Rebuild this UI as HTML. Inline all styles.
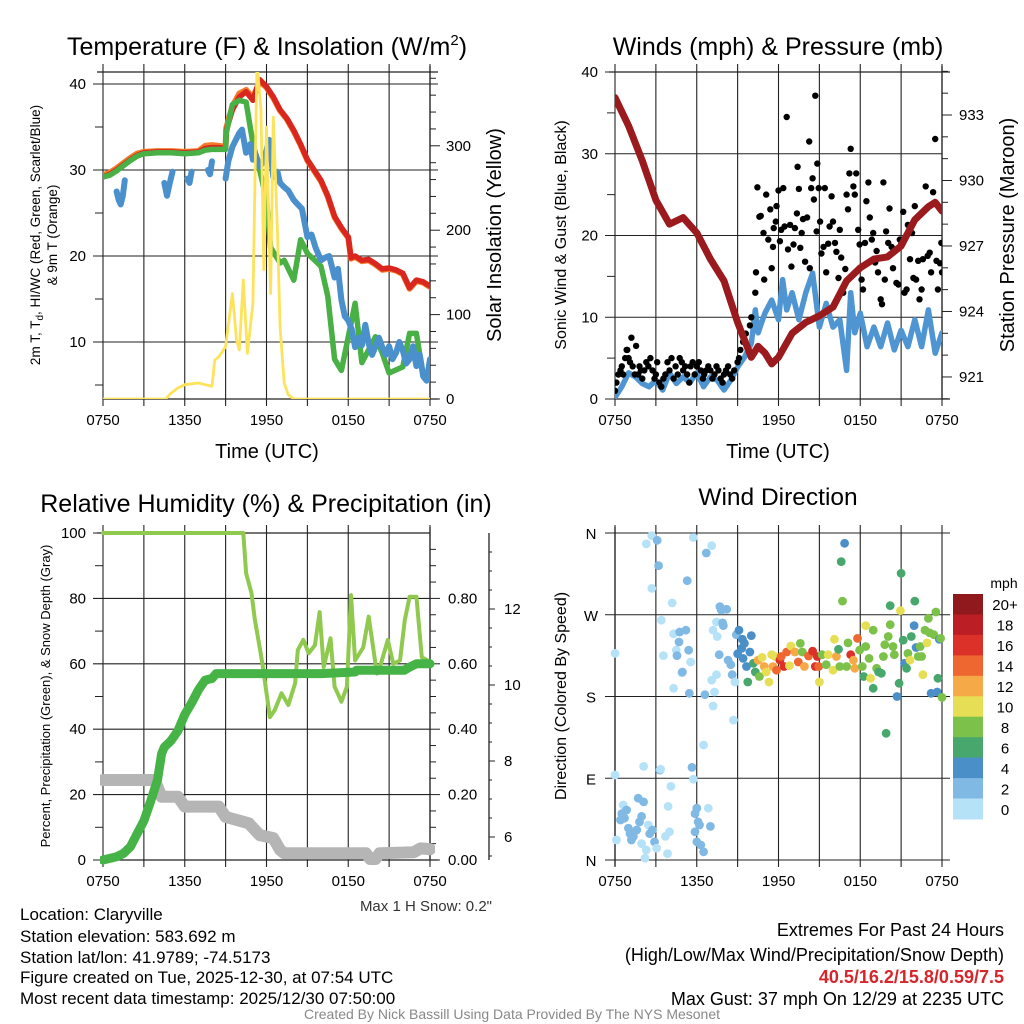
<!DOCTYPE html>
<html><head><meta charset="utf-8"><title>Claryville Meteogram</title>
<style>
html,body{margin:0;padding:0;background:#fff;}
svg{display:block;font-family:"Liberation Sans",sans-serif;}
</style></head>
<body>
<svg id="chart" width="1024" height="1024" viewBox="0 0 1024 1024" xmlns="http://www.w3.org/2000/svg">
<defs>
<clipPath id="c1"><rect x="103" y="72" width="327" height="327"/></clipPath>
<clipPath id="c2"><rect x="615" y="72" width="327" height="327"/></clipPath>
<clipPath id="c3"><rect x="100" y="530" width="335" height="340"/></clipPath>
<clipPath id="c4"><rect x="605" y="525" width="345" height="345"/></clipPath>
</defs>
<rect x="0" y="0" width="1024" height="1024" fill="#fff"/>
<g id="grid"></g>
<g id="marks"></g>
<g id="axes"></g>

<!-- Panel 1 texts -->
<text x="267" y="55" font-size="25" text-anchor="middle">Temperature (F) &amp; Insolation (W/m<tspan font-size="15" dy="-10">2</tspan><tspan dy="10">)</tspan></text>
<text transform="translate(40,235) rotate(-90)" font-size="13.5" text-anchor="middle">2m T, T<tspan font-size="10" dy="3">d</tspan><tspan dy="-3">, HI/WC (Red, Green, Scarlet/Blue)</tspan></text>
<text transform="translate(57,235) rotate(-90)" font-size="13.5" text-anchor="middle">&amp; 9m T (Orange)</text>
<text transform="translate(501,235) rotate(-90)" font-size="20" text-anchor="middle">Solar Insolation (Yellow)</text>
<text x="267" y="458" font-size="20" text-anchor="middle">Time (UTC)</text>

<!-- Panel 2 texts -->
<text x="778" y="55" font-size="25" text-anchor="middle">Winds (mph) &amp; Pressure (mb)</text>
<text transform="translate(566,235) rotate(-90)" font-size="16" text-anchor="middle">Sonic Wind &amp; Gust (Blue, Black)</text>
<text transform="translate(1014,235) rotate(-90)" font-size="20" text-anchor="middle">Station Pressure (Maroon)</text>
<text x="778" y="458" font-size="20" text-anchor="middle">Time (UTC)</text>

<!-- Panel 3 texts -->
<text x="266" y="512" font-size="25" text-anchor="middle">Relative Humidity (%) &amp; Precipitation (in)</text>
<text transform="translate(50,696) rotate(-90)" font-size="13" text-anchor="middle">Percent, Precipitation (Green), &amp; Snow Depth (Gray)</text>
<text x="492" y="911" font-size="15" fill="#333" text-anchor="end">Max 1 H Snow: 0.2"</text>

<!-- Panel 4 texts -->
<text x="778" y="505" font-size="24.5" text-anchor="middle">Wind Direction</text>
<text transform="translate(566,696) rotate(-90)" font-size="16" text-anchor="middle">Direction (Colored By Speed)</text>
<text x="1004" y="588" font-size="14" text-anchor="middle">mph</text>

<!-- Info text -->
<g font-size="17">
<text x="20" y="920">Location: Claryville</text>
<text x="20" y="942">Station elevation: 583.692 m</text>
<text x="20" y="963">Station lat/lon: 41.9789; -74.5173</text>
<text x="20" y="983">Figure created on Tue, 2025-12-30, at 07:54 UTC</text>
<text x="20" y="1004">Most recent data timestamp: 2025/12/30 07:50:00</text>
</g>
<g font-size="18" text-anchor="end">
<text x="1004" y="936">Extremes For Past 24 Hours</text>
<text x="1004" y="961">(High/Low/Max Wind/Precipitation/Snow Depth)</text>
<text x="1004" y="983" fill="#d7262b" font-weight="bold">40.5/16.2/15.8/0.59/7.5</text>
<text x="1004" y="1005">Max Gust: 37 mph On 12/29 at 2235 UTC</text>
</g>
<text x="512" y="1019" font-size="14" fill="#888" text-anchor="middle">Created By Nick Bassill Using Data Provided By The NYS Mesonet</text>
</svg>

<script>
// ---------- Panel 1: temperature & insolation ----------
const tempH = [0,0.5,1,1.5,2,2.5,3,4,5,6,7,7.5,8,8.5,9,9.05,9.5,10,10.5,11,11.5,12,12.5,13,13.5,14,14.5,15,15.5,16,16.5,17,17.5,18,18.2,18.5,19,19.5,20,20.5,21,21.5,22,22.5,23,23.5,24];
const tempT = [29.2,29.5,30,30.6,31.2,31.7,32,32.1,32.1,32,32.1,32.5,32.6,32.6,32.5,34.6,37,38.5,39.1,38.1,40.5,39.7,38.5,37,36,34.6,33,31.2,30,28.8,27,24.6,23.3,22.2,19.8,20,19.5,19.6,19.1,18.5,18.6,18.4,18,16.3,17.2,17.0,16.5];
const temp9m = [29.4,29.7,30.2,30.8,31.4,31.9,32.1,32.2,32.2,32.1,32.2,32.8,32.9,32.8,32.7,34.9,37.4,38.9,39.3,38.4,40.3,39.6,38.4,36.9,35.9,34.5,32.9,31.1,29.9,28.7,26.9,24.5,23.2,22.1,19.7,19.9,19.4,19.5,19,18.4,18.5,18.3,17.9,16.2,17.1,16.9,16.4];
const dpH = [0,0.5,1,1.5,2,2.5,3,4,5,6,7,7.5,8,8.5,9,9.05,9.5,10,10.5,11,11.5,12,12.3,13,13.3,14,14.5,15,16,16.5,17,17.5,18,18.5,19,20,20.5,21,22,22.5,23,23.5,24];
const dpT = [29.2,29.4,29.9,30.5,31.1,31.6,31.9,32,32,31.9,32,32.3,32.4,32.4,32.4,34.3,37.6,38.1,37.9,33.1,30,26.5,21,19.2,19.5,17.2,21.9,20.3,18.8,15.3,8,6.7,10.6,14.5,7.6,10.6,8.7,6.4,7.1,11,11,6,5.6];
const wcH = [1.0,1.15,1.3,1.45,1.6,null,4.5,4.7,4.9,5.1,null,6.2,6.35,6.5,null,7.7,7.85,8.0,null,9.0,9.2,9.5,10,10.2,10.5,10.8,11,11.2,11.5,11.8,12,12.2,12.5,12.8,13,13.3,13.6,14,14.3,14.6,15,15.3,15.6,16,16.3,16.6,17,17.25,17.5,17.75,18,18.25,18.5,18.75,19,19.25,19.5,19.75,20,20.25,20.5,20.75,21,21.25,21.5,21.75,22,22.25,22.5,22.75,23,23.25,23.5,23.75,24];
const wcT = [27.5,26.5,26,27,28.8,null,28.5,27,28.5,29.8,null,29,28.5,29.8,null,30,29.5,31,null,29,31,32.7,34.3,34.7,32,33,31.2,31.8,30.4,31,32.3,33.5,29.2,29.8,28.5,28,27.6,26.5,26,25.5,22.2,22.5,21,19.5,19.8,20,17.5,18.5,14.9,13,12.5,11.5,9.4,10.5,9.6,12,9.8,8.5,9.5,10.5,9.4,8.5,9.5,8,8.7,10,9,7.5,8,9.5,7.2,8.5,6,5.5,8];
const solH = [0,4.6,5,5.5,6,6.5,7,7.5,8,8.2,8.5,9,9.5,9.8,10,10.3,10.6,11,11.3,11.6,11.8,12,12.3,12.5,12.8,13,13.3,13.6,14,24];
const solV = [0,0,7,13,17,18,19,17,15,46,50,62,125,70,58,141,54,113,400,342,153,322,125,334,200,85,19,5,0,0];
const tempTicks = [10,20,30,40];
const solTicks = [0,100,200,300];
const timeLabels = ["0750","1350","1950","0150","0750"];

// ---------- Panel 2: winds & pressure ----------
const presH = [0,1,2,3,4,5,6,7,8,9,10,10.5,11,11.5,12,13,14,15,16,17,18,19,20,21,22,23,23.5,24];
const presV = [933.8,932.5,930.9,929.1,928.0,928.3,927.6,926.4,925.4,923.5,921.9,922.4,922.1,921.6,921.9,923,923.5,923.8,924.2,925.4,926,926.4,926.5,927,928.2,928.8,929,928.6];
const windH = [0,0.5,1,1.5,2,2.5,3,3.5,4,4.5,5,5.5,6,6.5,7,7.5,8,8.5,9,9.5,10,10.3,10.5,11,11.5,12,12.3,12.6,13,13.5,14,14.5,15,15.5,16,16.5,17,17.3,17.6,18,18.5,19,19.5,20,20.5,21,21.5,22,22.5,23,23.5,24];
const windV = [0.2,1.5,3.2,2.7,1.9,1.5,2.3,1.1,3.2,1.9,2.7,2,3.2,1.5,2.7,2.3,1.1,2.3,3.9,5.1,6.8,10.9,8.1,10.5,12.1,9.7,14.6,10.9,13,9.7,13,15.4,8.8,11.7,8.8,9.7,3.5,13,8.1,10.5,6.4,8.8,6.4,9.3,6,8.4,6.4,9.7,6.4,10.9,5.6,8.1];
const gustH = [0,0.1,0.25,0.4,0.5,0.6,0.75,0.85,0.9,1.0,1.1,1.2,1.3,1.45,1.55,1.7,1.8,1.9,2.0,2.15,2.3,2.45,2.6,2.75,2.9,3.0,3.1,3.25,3.4,3.55,3.7,3.85,4.0,4.15,4.3,4.45,4.6,4.75,4.9,5.0,5.15,5.3,5.45,5.55,5.7,5.85,6.0,6.15,6.3,6.45,6.55,6.7,6.85,7.0,7.15,7.3,7.45,7.6,7.75,7.9,8.0,8.15,8.3,8.45,8.6,8.75,9.0,9.1,9.2,9.4,9.6,9.7,9.9,10.0,
 10.3,10.35,10.45,10.6,10.7,10.9,10.95,11.1,11.25,11.4,11.5,11.6,11.65,11.8,11.85,12.0,12.1,12.2,12.35,12.45,12.6,12.7,12.85,12.95,13.1,13.2,13.35,13.4,13.5,13.6,13.7,13.8,13.95,14.1,14.25,14.3,14.4,14.5,14.6,14.7,14.8,14.85,14.95,15.05,15.15,15.3,15.4,15.5,15.65,15.75,15.9,16.0,16.15,16.25,16.4,16.5,16.6,16.75,16.9,17.0,17.1,17.2,17.3,17.5,17.6,17.7,17.85,17.95,18.1,18.2,18.35,18.45,18.6,18.7,18.85,18.95,19.1,19.2,19.3,19.5,19.6,19.7,19.8,19.9,20.05,20.15,20.3,20.4,20.55,20.65,20.8,20.9,21.0,21.15,21.25,21.4,21.5,21.65,21.8,21.9,22.0,22.1,22.25,22.35,22.5,22.6,22.8,22.95,23.1,23.2,23.35,23.5,23.6,23.7,23.85,23.95,24.0];
const gustV = [1,2,3,3.5,4,3,5,6,6,5,4.5,7.5,4,3,6.5,3,4,3.5,2.5,3.5,4.5,4,5,3.5,2.5,3,4.5,2,1.5,2.5,3,4.5,3.5,5,2.5,4,3,5,4.5,3.5,4,3,2,4,4.5,3,4,4.5,3.5,2.5,3,3.5,4,3.5,2.5,3,4,3.5,2.5,2,3,3.5,4,3,2.5,3.5,4.5,5,6,7,8,6.5,9,10,
 13,15.5,25.9,22.3,22.4,20.3,14.6,25,19.5,23.2,16,18.6,20.9,21.7,23.6,25.5,19.3,20.7,25.8,21.1,34.5,18.3,21.3,16.2,18.9,20.9,22.7,28.4,25.7,18.5,20.3,22,16.8,22.2,31.5,16,25.8,27,24.4,37.1,20.5,28.8,25.8,21.7,17.8,18.6,25.8,15.5,19,21.1,24.8,21.7,19.1,18,14.8,20.7,17.3,13,15.9,25,23.2,27.6,30.6,26,25,27.6,20.7,18.9,14.6,13.4,19.1,24.2,26.5,22.2,19.5,20.3,16.7,18.1,15.5,12.2,11.6,26.5,14.6,20.5,19.1,23.3,18.6,16,18.3,14.2,14,19.5,18.9,22.9,13,13.4,21.3,17.1,20.3,14.8,23.6,14.6,16.9,12.2,13.4,17.1,26,17.5,17.9,15.5,25.3,31.8,16.9,13.4,16.6,19.1,15.5];
const windTicks = [0,10,20,30,40];
const presTicks = [921,924,927,930,933];

// ---------- Panel 3: RH, precip, snow ----------
const rhH = [0,10.3,10.5,10.9,11.15,11.5,11.7,12.25,12.6,13.1,13.6,14.1,14.3,14.7,15.1,15.55,15.9,16.2,16.7,17,17.5,17.9,18.2,18.5,19.1,19.5,20.1,20.4,20.9,21.3,21.8,22.15,22.5,23,23.4,24];
const rhV = [100,100,87.7,81.6,73.4,65,60,43.7,45.8,51,47.4,54,64.2,67.3,63.2,65.7,75.8,59,67.8,53,48.4,53,81,61,65,74.4,57,60,67.3,60,61,73.4,80.5,80.5,62,60.6];
const prH = [0,0.5,1,1.5,2,2.5,3,3.5,4,4.3,4.5,5,5.5,6,6.5,7,7.5,8,8.3,16,18.5,18.6,22.1,22.5,23,24];
const prV = [0,0.005,0.01,0.02,0.04,0.08,0.12,0.18,0.245,0.325,0.345,0.365,0.395,0.445,0.48,0.52,0.55,0.555,0.57,0.57,0.575,0.58,0.58,0.59,0.6,0.6];
const snH = [0,3.8,4,4.3,5.5,6,8.5,9,10.7,11.5,12.5,13,13.3,19.3,19.6,20,20.3,22.8,23.3,24];
const snV = [7.5,7.5,7.32,7.06,7.06,6.8,6.8,6.53,6.36,6.05,5.97,5.66,5.57,5.57,5.42,5.42,5.57,5.6,5.7,5.68];
const rhTicks = [0,20,40,60,80,100];
const prTicks = ["0.00","0.20","0.40","0.60","0.80"];
const snTicks = [6,8,10,12];

// ---------- Panel 4: wind direction ----------
const dirH = [0,0,0.1,0.6,0.85,0.4,0.7,0.5,0.98,1.1,1.2,1.35,1.6,1.7,1.8,1.95,2.1,1.95,2.2,2.3,2.45,2.55,2.75,2.9,3.05,3.3,3.35,3.7,3.85,3.9,4.0,4.1,2.1,2.3,2.7,3.1,3.2,2.7,3.4,3.55,4.2,4.3,4.5,4.55,4.75,4.7,4.9,4.95,4.3,5.3,5.2,5.4,5.55,5.45,5.75,5.65,5.75,6.0,5.87,6.1,6.2,5.87,6.0,6.3,6.5,6.7,7.1,6.85,7.0,6.6,6.5,7.2,7.1,7.45,7.3,7.2,7.5,7.45,7.7,7.95,7.9,7.65,7.8,8.2,8.3,8.5,8.6,8.7,8.8,8.9,9.0,9.1,9.3,9.35,9.5,9.4,9.65,9.75,10.0,9.9,10.15,10.3,10.6,10.5,10.8,10.95,11.1,11.3,11.5,11.75,11.6,11.85,12.1,12.2,12.4,12.6,12.8,12.9,13.2,13.45,13.6,13.75,13.9,14.2,14.5,14.7,14.85,15.0,14.95,15.2,15.5,15.65,16.0,16.1,16.25,16.4,16.5,16.6,16.7,16.85,17.0,17.1,17.3,17.5,17.6,17.8,17.95,18.15,18.25,18.4,18.4,18.65,18.75,18.95,18.95,19.2,19.35,19.55,19.7,19.8,19.9,20.05,20.2,20.2,20.4,20.5,20.7,20.85,20.95,21.0,21.15,21.25,21.4,21.5,21.65,21.75,21.95,22.0,22.1,22.25,22.4,22.5,22.6,22.75,22.9,23.0,23.1,23.2,23.4,23.55,23.65,23.7,23.8,23.9,24.0];
const dirD = [227.5,93.6,22,60.5,55,44,46,51,35,29,22,26,33,68,42,48,64,18,2,11,38.5,29,33,20,13,99,100,26,7,59,31,81,103,348,357,352,324,299,264,225,283,249,231,225,251,240,206,207,189,307.5,253,231,218,183.5,355,102,89,57,51,42,38.5,31,20,16.5,9,338,346,57,37,182,126.6,169.5,198,204,185,253,246,262,279,258,261,226,275,276,220,215,204,154,196,248,227,253,233,243,238.5,222,213,196,247,229,216.5,207,202,220,223,213,207,196,226,224,213,209,220,224,213,229,214,235.6,229,218,238.5,229,213,224.6,230,213,224,196,213,226,215,226,209,243,224,232,213,328.5,285,348.7,213,239,226,220,211,244,231,213,202,258,235,222,200,253,189,211,207,205.5,224,237,139.5,246,280,259,235,226,180,194.5,274.5,315.6,242,216.5,211,227.5,220,246,258,285,234,224,235,224,204,253,239,266,250,183.5,248,273,185,200,243,244,179];
const dirS = [1,1,1,1,2,2,2,2,2,2,2,2,2,2,2,2,2,1,0,1,1,2,2,2,1,2,1,1,0,1,1,1,0,0,1,2,2,0,0,0,0,1,1,2,2,3,1,2,0,2,2,2,1,2,0,2,0,2,2,2,2,2,2,2,2,2,0,0,2,2,0,0,0,0,0,0,0,1,2,2,2,3,2,2,2,2,2,0,1,3,4,4,4,4,4,4,4,6,4,5,6,6,8,12,10,12,10,10,10,10,12,14,16,14,16,14,10,10,12,14,8,8,12,14,16,16,16,10,14,8,8,10,10,10,12,6,8,6,8,4,8,8,16,12,12,14,8,8,6,10,8,8,10,8,6,8,6,6,8,8,6,8,6,8,8,8,4,6,10,6,6,4,6,8,10,6,4,6,4,8,8,8,10,8,10,8,8,4,8,8,4,6,4,8,8];
const dirLabels = ["N","E","S","W","N"];
const speedBins = ["0","2","4","6","8","10","12","14","16","18","20+"];
const speedColors = ["#b6e2f8","#80b9e4","#4a8fc7","#47a76c","#7cc14a","#e6df55","#f6aa47","#ee6630","#dc3128","#bb1e25","#8f191c"];

// ---------- helpers / scales ----------
const NS = "http://www.w3.org/2000/svg";
const gridG = document.getElementById('grid');
const marksG = document.getElementById('marks');
const axesG = document.getElementById('axes');
function mk(tag, attrs, parent) {
  const el = document.createElementNS(NS, tag);
  for (const k in attrs) el.setAttribute(k, attrs[k]);
  parent.appendChild(el);
  return el;
}
const PX_H = 327 / 24;
const X1 = h => 103 + h * PX_H;
const X2 = h => 615 + h * PX_H;
const YT = t => 84 + (40 - t) * 8.6;
const YI = i => 399 - i * 0.844;
const YW = v => 399 - v * 8.175;
const YP = p => 115 + (933 - p) * 21.83;
const YR = r => 860 - r * 3.27;
const YPr = v => 860 - v * 327;
const YS = s => 837 - (s - 6) * 38;
const YD = d => 860 - d * 327 / 360;
function pathD(hs, vs, xf, yf) {
  let d = '', pen = false;
  for (let i = 0; i < hs.length; i++) {
    if (hs[i] == null || vs[i] == null) { pen = false; continue; }
    d += (pen ? 'L' : 'M') + xf(hs[i]).toFixed(1) + ',' + yf(vs[i]).toFixed(1);
    pen = true;
  }
  return d;
}
function line(x1, y1, x2, y2, col, w, name) {
  const l = mk('line', {x1: x1, y1: y1, x2: x2, y2: y2, stroke: col, 'stroke-width': w}, gridG);
  
  
  return l;
}
function label(x, y, txt, anchor, size, name) {
  const t = mk('text', {x: x, y: y, 'text-anchor': anchor, 'font-size': size}, axesG);
  t.textContent = txt;
  
  
  return t;
}
const GRID = '#222';

// ---------- frames, grids & ticks ----------
function timeAxis(x0, yTop, yBot, panel) {
  for (let k = 0; k <= 8; k++) {
    const x = x0 + k * 3 * PX_H;
    line(x, yTop - 8, x, yBot + 7, GRID, 1.1, panel + '-time-gridline');
  }
  for (let k = 0; k < timeLabels.length; k++) {
    label(x0 + k * 6 * PX_H, yBot + 26, timeLabels[k], 'middle', 15, panel + '-time-tick-label');
  }
}
// Panel 1
timeAxis(103, 72, 399, 'temp');
line(97, 72, 438, 72, GRID, 1.3, 'temp-top-border');
line(103, 399, 438, 399, GRID, 1.3, 'temp-bottom-border');
line(430, 66, 430, 399, GRID, 1.3, 'temp-right-axis');
tempTicks.forEach(t => { line(93, YT(t), 438, YT(t), GRID, 1.1, 'temp-gridline'); label(86, YT(t) + 5, String(t), 'end', 15, 'temp-tick-label'); });
[5,15,25,35].forEach(t => line(95, YT(t), 103, YT(t), GRID, 1, 'temp-minor-tick'));
for (let i = 0; i <= 380; i += 20) line(430, YI(i), i % 100 === 0 ? 440 : 436, YI(i), GRID, 1, 'insolation-tick');
solTicks.forEach(i => label(446, YI(i) + 5, String(i), 'start', 15, 'insolation-tick-label'));
// Panel 2
timeAxis(615, 72, 399, 'wind');
line(609, 72, 950, 72, GRID, 1.3, 'wind-top-border');
line(615, 399, 950, 399, GRID, 1.3, 'wind-bottom-border');
line(942, 66, 942, 399, GRID, 1.3, 'wind-right-axis');
windTicks.forEach(v => { line(605, YW(v), 942, YW(v), GRID, 1.1, 'wind-gridline'); label(598, YW(v) + 5, String(v), 'end', 15, 'wind-tick-label'); });
[5,15,25,35].forEach(v => line(607, YW(v), 615, YW(v), GRID, 1, 'wind-minor-tick'));
for (let p = 920; p <= 935; p++) line(942, YP(p), presTicks.indexOf(p) >= 0 ? 952 : 948, YP(p), GRID, 1, 'pressure-tick');
presTicks.forEach(p => label(959, YP(p) + 5, String(p), 'start', 15, 'pressure-tick-label'));
// Panel 3
timeAxis(103, 533, 860, 'rh');
line(97, 533, 430, 533, GRID, 1.3, 'rh-top-border');
line(103, 860, 438, 860, GRID, 1.3, 'rh-bottom-border');
line(430, 527, 430, 860, GRID, 1.3, 'rh-right-axis');
rhTicks.forEach(r => { line(93, YR(r), 430, YR(r), GRID, 1.1, 'rh-gridline'); label(86, YR(r) + 5, String(r), 'end', 15, 'rh-tick-label'); });
[10,30,50,70,90].forEach(r => line(95, YR(r), 103, YR(r), GRID, 1, 'rh-minor-tick'));
for (let k = 0; k <= 19; k++) line(430, YPr(k * 0.05), k % 4 === 0 ? 440 : 436, YPr(k * 0.05), GRID, 1, 'precip-tick');
prTicks.forEach(s => label(448, YPr(parseFloat(s)) + 5, s, 'start', 15, 'precip-tick-label'));
line(489, 533, 489, 860, GRID, 1.3, 'snow-axis-line');
for (let s = 5.5; s <= 13.5; s += 0.5) line(489, YS(s), snTicks.indexOf(s) >= 0 ? 495 : 492, YS(s), GRID, 1, 'snow-tick');
snTicks.forEach(s => label(504, YS(s) + 5, String(s), 'start', 15, 'snow-tick-label'));
// Panel 4
timeAxis(615, 533, 860, 'direction');
[0,90,180,270,360].forEach((d, k) => { line(605, YD(d), 950, YD(d), GRID, 1.1, 'direction-gridline'); label(591, YD(d) + 6, dirLabels[k], 'middle', 15, 'direction-tick-label'); });
line(615, 527, 615, 866, GRID, 1.3, 'direction-left-axis');

// ---------- marks ----------
function series(hs, vs, xf, yf, col, w, clip, name) {
  const p = mk('path', {d: pathD(hs, vs, xf, yf), fill: 'none', stroke: col, 'stroke-width': w, 'stroke-linejoin': 'round', 'stroke-linecap': 'round', 'clip-path': 'url(#' + clip + ')'}, marksG);
  
  
  return p;
}
series(tempH, temp9m, X1, YT, '#f47b2b', 6, 'c1', 'temp-9m-line');
series(tempH, tempT, X1, YT, '#d9261f', 5.5, 'c1', 'temp-2m-line');
series(dpH, dpT, X1, YT, '#48b045', 5.5, 'c1', 'dewpoint-line');
series(wcH, wcT, X1, YT, '#4a90cc', 6, 'c1', 'windchill-line');
series(solH, solV, X1, YI, '#fde35c', 2.8, 'c1', 'insolation-line');
series(windH, windV, X2, YW, '#4f95d2', 5.5, 'c2', 'sonic-wind-line');
for (let i = 0; i < gustH.length; i++) {
  const c = mk('circle', {cx: X2(gustH[i]).toFixed(1), cy: YW(gustV[i]).toFixed(1), r: 3.2, fill: '#000', 'clip-path': 'url(#c2)'}, marksG);
  
  
}
series(presH, presV, X2, YP, '#9b1a1d', 7, 'c2', 'pressure-line');
series(snH, snV, X1, YS, '#b5b5b5', 12, 'c3', 'snow-depth-line');
series(rhH, rhV, X1, YR, '#8fc94e', 4, 'c3', 'rh-line');
series(prH, prV, X1, YPr, '#46b347', 9, 'c3', 'precip-line');
for (let i = 0; i < dirH.length; i++) {
  const bin = Math.min(10, Math.floor(dirS[i] / 2));
  const c = mk('circle', {cx: X2(dirH[i]).toFixed(1), cy: YD(dirD[i]).toFixed(1), r: 4.4, fill: speedColors[bin], 'clip-path': 'url(#c4)'}, marksG);
  
  
}
const cbTop = 594, cbH = 225 / speedColors.length;
for (let k = 0; k < speedColors.length; k++) {
  const idx = speedColors.length - 1 - k;
  const r = mk('rect', {x: 953, y: (cbTop + k * cbH).toFixed(1), width: 30, height: (cbH + 0.5).toFixed(1), fill: speedColors[idx]}, axesG);
  
  
  label(1005, cbTop + k * cbH + cbH / 2 + 6, speedBins[idx], 'middle', 15, 'colorbar-label');
}
</script>
</body></html>
